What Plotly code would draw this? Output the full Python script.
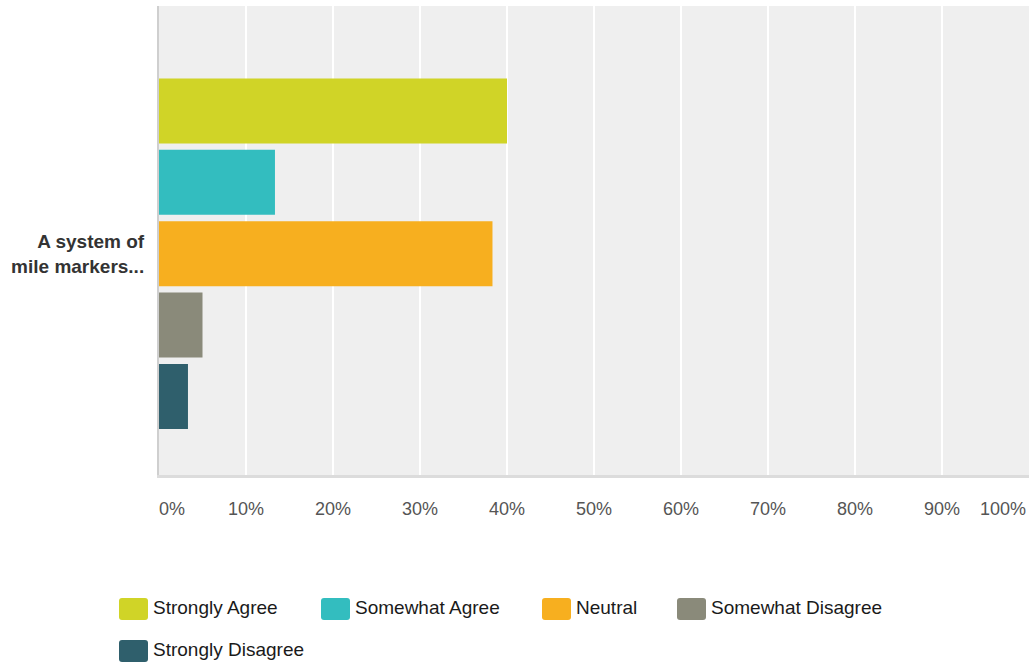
import plotly.graph_objects as go

# ---- data ----
question_labels = ["A system of<br>mile markers..."]
series_names = ["Strongly Agree", "Somewhat Agree", "Neutral", "Somewhat Disagree", "Strongly Disagree"]
series_values = [40.0, 13.33, 38.33, 5.0, 3.33]
tick_values = [0, 10, 20, 30, 40, 50, 60, 70, 80, 90, 100]
tick_labels = ["0%", "10%", "20%", "30%", "40%", "50%", "60%", "70%", "80%", "90%", "100%"]

# ---- style ----
colors = ["#d0d427", "#33bdbf", "#f7af1f", "#8a8a7a", "#2f5f6c"]
FONT = "Liberation Sans, Arial, Helvetica, sans-serif"
W, H = 1031, 662
L, R, T, B = 159, 2, 6, 187
PW, PH = W - L - R, H - T - B

def px(x):
    return (x - L) / PW

def py(y):
    return (H - B - y) / PH

fig = go.Figure()
for name, val, col in zip(series_names, series_values, colors):
    fig.add_trace(go.Bar(
        y=question_labels, x=[val], name=name, orientation="h",
        marker=dict(color=col, line=dict(width=0)),
        showlegend=False,
    ))

# x tick labels as annotations (edge labels pulled inward like reference)
annotations = []
for v, t in zip(tick_values, tick_labels):
    if v == tick_values[0]:
        anchor, shift = "left", -2
    elif v == tick_values[-1]:
        anchor, shift = "right", -1
    else:
        anchor, shift = "center", 0
    annotations.append(dict(
        x=v, xref="x", y=0, yref="paper", yshift=-34, yanchor="middle",
        xanchor=anchor, xshift=shift, text=t, showarrow=False,
        font=dict(family=FONT, size=18, color="#555555"),
    ))

# custom legend (large rounded swatches)
legend_x = [119, 321, 542, 677, 119]
legend_y = [609, 609, 609, 609, 651]
sw_w, sw_h, rad = 29, 22, 3
shapes = []
for name, col, lx, ly in zip(series_names, colors, legend_x, legend_y):
    x0, x1 = lx, lx + sw_w
    y0, y1 = ly - sw_h / 2, ly + sw_h / 2
    path = (
        f"M{px(x0 + rad)},{py(y0)} L{px(x1 - rad)},{py(y0)} "
        f"Q{px(x1)},{py(y0)} {px(x1)},{py(y0 + rad)} "
        f"L{px(x1)},{py(y1 - rad)} Q{px(x1)},{py(y1)} {px(x1 - rad)},{py(y1)} "
        f"L{px(x0 + rad)},{py(y1)} Q{px(x0)},{py(y1)} {px(x0)},{py(y1 - rad)} "
        f"L{px(x0)},{py(y0 + rad)} Q{px(x0)},{py(y0)} {px(x0 + rad)},{py(y0)} Z"
    )
    shapes.append(dict(type="path", xref="paper", yref="paper", path=path,
                       fillcolor=col, line=dict(width=0)))
    annotations.append(dict(
        x=px(x1 + 3), xref="paper", y=py(ly - 2), yref="paper",
        xanchor="left", yanchor="middle", text=name, showarrow=False,
        font=dict(family=FONT, size=19, color="#1a1a1a"),
    ))

fig.update_layout(
    width=W, height=H,
    margin=dict(l=L, r=R, t=T, b=B, pad=0),
    paper_bgcolor="white",
    plot_bgcolor="#efefef",
    barmode="group",
    bargap=0.239,
    bargroupgap=0.09,
    showlegend=False,
    annotations=annotations,
    shapes=shapes,
    font=dict(family=FONT),
)
fig.update_xaxes(
    range=[0, 100], tickvals=tick_values, showticklabels=False,
    showgrid=True, gridcolor="white", gridwidth=2,
    zeroline=False, showline=True, linecolor="#dcdcdc", linewidth=3,
    fixedrange=True,
)
fig.update_yaxes(
    range=[0.4719, -0.5281],
    showgrid=False, zeroline=False,
    showline=True, linecolor="#cfcfcf", linewidth=2,
    ticks="outside", ticklen=9, tickcolor="rgba(0,0,0,0)",
    tickfont=dict(family=FONT, size=19, color="#333333", weight="bold"),
    fixedrange=True,
)

fig.write_html(
    "out.html",
    config={"displayModeBar": False},
    post_script="document.body.style.margin='0';document.body.style.overflow='hidden';",
)
